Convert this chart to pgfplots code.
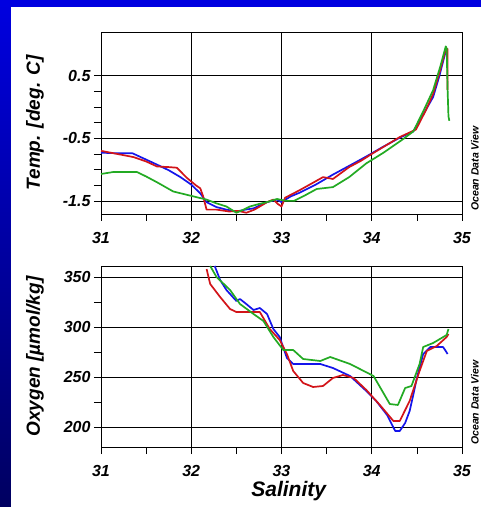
\documentclass[border=0pt]{standalone}
\usepackage{pgfplots}
\pgfplotsset{compat=1.18}
\usepackage{fontspec}
\setmainfont{Liberation Sans}
\definecolor{bgtop}{RGB}{0,0,224}
\definecolor{bgbot}{RGB}{0,0,96}
\definecolor{cblue}{RGB}{20,20,235}
\definecolor{cred}{RGB}{210,20,25}
\definecolor{cgreen}{RGB}{35,170,35}
\pgfplotsset{
  odv/.style={
    scale only axis, width=361pt, anchor=south west,
    xmin=31, xmax=35, xtick={31,32,33,34,35}, minor x tick num=1,
    tick align=outside, xtick pos=bottom, ytick pos=left,
    major tick length=7pt, minor tick length=7pt,
    grid=major, major grid style={black, line width=0.7pt},
    axis line style={line width=0.9pt},
    every tick/.style={black, line width=0.7pt},
    /pgf/number format/assume math mode=true,
    ticklabel style={font=\fontsize{16}{18}\selectfont\bfseries\itshape},
    xticklabel style={yshift=-8pt},
    label style={font=\fontsize{19}{22}\selectfont\bfseries\itshape},
    every axis plot/.append style={line width=1.7pt, line join=round},
    clip=true,
  }
}
\begin{document}
\begin{tikzpicture}[x=1pt,y=1pt]
\useasboundingbox (0,0) rectangle (481,507);
\shade[top color=bgtop, bottom color=bgbot] (0,0) rectangle (481,507);
\fill[bgtop] (0,500) rectangle (481,507);
\fill[white] (11,0) rectangle (481,500);

\begin{axis}[odv, at={(101pt,293pt)}, height=182pt,
  ymin=-1.71, ymax=1.2, ytick={-1.5,-0.5,0.5}, minor y tick num=3,
  yticklabel style={/pgf/number format/.cd, fixed, fixed zerofill, precision=1},
  ylabel={Temp. [deg. C]},
  ylabel style={at={(axis description cs:-0.183,0.5)}, anchor=center}]
\addplot[cblue] coordinates {
(31,-0.73) (31.2,-0.74) (31.35,-0.74) (31.5,-0.84) (31.62,-0.92) (31.75,-1.01)
(31.88,-1.12) (32.0,-1.24) (32.1,-1.38) (32.17,-1.52) (32.28,-1.6) (32.39,-1.64)
(32.5,-1.67) (32.6,-1.64) (32.69,-1.62) (32.75,-1.58) (32.84,-1.52) (32.95,-1.48)
(33.0,-1.52) (33.1,-1.43) (33.2,-1.37) (33.38,-1.24) (33.57,-1.08) (33.75,-0.94)
(33.94,-0.79) (34.12,-0.64) (34.31,-0.49) (34.46,-0.39) (34.57,-0.12) (34.68,0.16)
(34.75,0.5) (34.81,0.84) (34.82,0.86)
};
\addplot[cred] coordinates {
(31,-0.70) (31.18,-0.75) (31.36,-0.80) (31.5,-0.87) (31.62,-0.95) (31.75,-0.96)
(31.84,-0.97) (31.95,-1.13) (32.05,-1.25) (32.1,-1.3) (32.13,-1.42) (32.17,-1.64)
(32.28,-1.64) (32.42,-1.67) (32.52,-1.66) (32.61,-1.69) (32.7,-1.64) (32.76,-1.59)
(32.84,-1.52) (32.91,-1.48) (32.96,-1.55) (33.0,-1.59) (33.04,-1.45) (33.2,-1.33)
(33.35,-1.21) (33.46,-1.12) (33.57,-1.15) (33.75,-0.96) (33.88,-0.86) (34.0,-0.75)
(34.15,-0.62) (34.31,-0.48) (34.49,-0.36) (34.6,-0.05) (34.68,0.21) (34.75,0.55)
(34.81,0.87) (34.84,0.93) (34.84,0.27)
};
\addplot[cgreen] coordinates {
(31,-1.07) (31.13,-1.04) (31.4,-1.04) (31.5,-1.11) (31.63,-1.21) (31.8,-1.35)
(32.0,-1.42) (32.17,-1.48) (32.28,-1.54) (32.39,-1.59) (32.5,-1.69) (32.58,-1.64)
(32.65,-1.59) (32.75,-1.55) (32.84,-1.52) (32.95,-1.47) (33.05,-1.5) (33.14,-1.5)
(33.25,-1.42) (33.39,-1.31) (33.57,-1.28) (33.75,-1.12) (33.94,-0.9) (34.13,-0.73)
(34.35,-0.51) (34.46,-0.39) (34.57,-0.07) (34.68,0.27) (34.76,0.65) (34.82,0.97)
(34.83,0.94) (34.84,0.3) (34.85,-0.15) (34.86,-0.22)
};
\end{axis}
\node[rotate=90, anchor=south west, inner sep=0pt, font=\fontsize{10.5}{12}\selectfont\bfseries\itshape] at (479,296) {Ocean Data View};

\begin{axis}[odv, at={(101pt,60pt)}, height=181pt,
  ymin=180, ymax=361, ytick={200,250,300,350}, minor y tick num=1,
  ylabel={Oxygen [µmol/kg]},
  ylabel style={at={(axis description cs:-0.183,0.5)}, anchor=center},
  xlabel={Salinity},
  xlabel style={font=\fontsize{21}{23}\selectfont\bfseries\itshape, at={(axis description cs:0.52,-0.245)}, anchor=center, inner sep=0pt}]
\addplot[cblue] coordinates {
(32.26,361) (32.32,347) (32.39,337) (32.5,326) (32.54,328) (32.61,323) (32.69,317)
(32.76,319) (32.84,313) (32.91,298) (32.98,290) (33.06,269) (33.13,263) (33.25,263)
(33.43,263) (33.57,259) (33.76,251) (33.94,236) (34.05,226) (34.17,212) (34.26,196)
(34.31,196) (34.37,204) (34.42,216) (34.46,232) (34.5,249) (34.57,273) (34.65,280)
(34.72,280) (34.79,280) (34.82,276) (34.84,273)
};
\addplot[cred] coordinates {
(32.17,358) (32.21,343) (32.32,330) (32.43,318) (32.5,315) (32.65,315) (32.76,315)
(32.87,298) (32.95,290) (32.98,287) (33.06,273) (33.13,256) (33.24,244) (33.35,240)
(33.46,241) (33.57,249) (33.68,252) (33.8,249) (33.94,237) (34.09,222) (34.24,206)
(34.31,206) (34.42,226) (34.53,256) (34.61,276) (34.72,281) (34.83,290) (34.85,293)
};
\addplot[cgreen] coordinates {
(32.21,361) (32.28,350) (32.43,337) (32.54,323) (32.69,313) (32.8,306) (32.91,290)
(33.02,277) (33.13,277) (33.24,268) (33.43,266) (33.54,270) (33.76,263) (34.02,251)
(34.2,223) (34.29,222) (34.37,239) (34.44,241) (34.53,263) (34.57,280) (34.68,284)
(34.83,292) (34.85,298)
};
\end{axis}
\node[rotate=90, anchor=south west, inner sep=0pt, font=\fontsize{10.5}{12}\selectfont\bfseries\itshape] at (479,62) {Ocean Data View};
\end{tikzpicture}
\end{document}
